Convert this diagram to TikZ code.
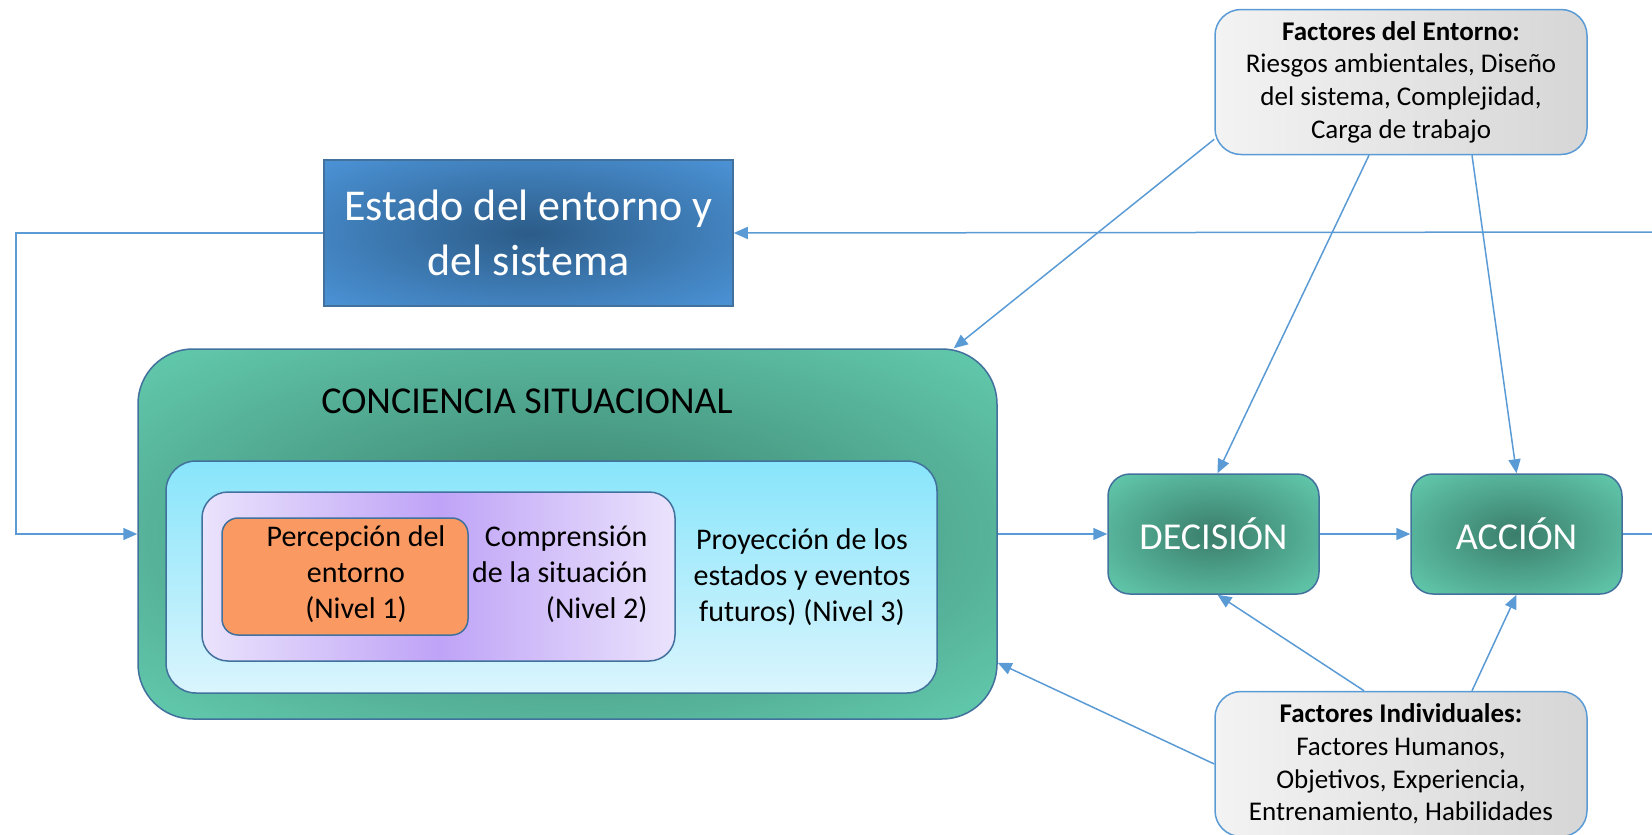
\documentclass[tikz,border=0pt]{standalone}
\usepackage{fontspec}
\setmainfont{Carlito}
\usetikzlibrary{positioning,arrows.meta}
\definecolor{linea}{HTML}{5B9BD5}
\definecolor{borde}{HTML}{41719C}
\definecolor{azulin}{HTML}{2C5C88}
\definecolor{azulout}{HTML}{4C94D8}
\definecolor{verdein}{HTML}{3A7D6A}
\definecolor{verdeout}{HTML}{60C6AA}
\definecolor{cianarr}{HTML}{88E5FB}
\definecolor{cianab}{HTML}{DAF5FD}
\definecolor{lilamed}{HTML}{BFA3F7}
\definecolor{lilabor}{HTML}{EAE3FC}
\definecolor{naranja}{HTML}{FA9A62}
\definecolor{grisiz}{HTML}{F3F3F3}
\definecolor{grisde}{HTML}{D6D6D6}
\pgfdeclareradialshading{sombraazul}{\pgfpoint{0bp}{0bp}}{color(0bp)=(azulin);color(36bp)=(azulout);color(50bp)=(azulout)}
\pgfdeclareradialshading{sombraverde}{\pgfpoint{0bp}{0bp}}{color(0bp)=(verdein);color(33bp)=(verdeout);color(50bp)=(verdeout)}
\begin{document}
\begin{tikzpicture}[x=1pt,y=-1pt,
  caja/.style={draw=borde,line width=1.5pt,inner sep=0pt},
  verde/.style={caja,shading=sombraverde},
  factor/.style={caja,draw=linea,rounded corners=26pt,left color=grisiz,right color=grisde,
    minimum width=372pt,minimum height=145pt,align=center,font=\fontsize{27}{32.6}\selectfont},
  flecha/.style={draw=linea,line width=1.5pt,-{Triangle[length=14pt,width=12pt]}},
  linea/.style={draw=linea,line width=1.5pt}]
  \useasboundingbox (0,0) rectangle (1652,835);
  \node[caja,shading=sombraazul,minimum width=409pt,minimum height=146pt,
    align=center,text=white,font=\fontsize{44}{55}\selectfont] (estado) at (528.5,233)
    {Estado del entorno y\\del sistema};
  \node[verde,rounded corners=55pt,minimum width=859pt,minimum height=370pt] (cs) at (567.5,534) {};
  \node[font=\fontsize{38}{44}\selectfont] (cstit) at (527,401) {CONCIENCIA SITUACIONAL};
  \node[caja,rounded corners=30pt,top color=cianarr,bottom color=cianab,
    minimum width=771pt,minimum height=232pt] (cian) at (551.5,577) {};
  \node[caja,rounded corners=26pt,left color=lilabor,right color=lilabor,middle color=lilamed,
    minimum width=473pt,minimum height=169pt] (lila) at (438.5,576.5) {};
  \node[caja,rounded corners=16pt,fill=naranja,minimum width=246pt,minimum height=117pt] (perc) at (345,576.5) {};
  \node[align=center,font=\fontsize{30}{36}\selectfont] (perctxt) at (356,574)
    {Percepción del\\entorno\\(Nivel 1)};
  \node[anchor=east,align=right,font=\fontsize{30}{36}\selectfont] (comptxt) at (651,574)
    {Comprensión\\de la situación\\(Nivel 2)};
  \node[align=center,font=\fontsize{30}{36}\selectfont] (proytxt) at (802,577)
    {Proyección de los\\estados y eventos\\futuros) (Nivel 3)};
  \node[verde,rounded corners=22pt,minimum width=211pt,minimum height=120pt,
    text=white,font=\fontsize{38}{44}\selectfont] (decision) at (1213.5,534) {DECISIÓN};
  \node[verde,rounded corners=22pt,minimum width=211pt,minimum height=120pt,
    text=white,font=\fontsize{38}{44}\selectfont] (accion) at (1516.5,534) {ACCIÓN};
  \node[factor] (entorno) at (1401,82)
    {\textbf{Factores del Entorno:}\\Riesgos ambientales, Diseño\\del sistema, Complejidad,\\Carga de trabajo};
  \node[factor] (indiv) at (1401,764)
    {\textbf{Factores Individuales:}\\Factores Humanos,\\Objetivos, Experiencia,\\Entrenamiento, Habilidades};
  \coordinate (izq) at (16,534);
  \coordinate (dera) at (1652,534);
  \coordinate (derb) at (1652,232);
  \draw[flecha] (estado.west) -| (izq) -- (cs.west);
  \draw[flecha] (cs.east) -- (decision.west);
  \draw[flecha] (decision) -- (accion);
  \draw[linea] (accion.east) -- (dera);
  \draw[flecha] (derb) -- (estado.east);
  \draw[flecha] ([yshift=16pt]entorno.south west) -- ([xshift=-44pt]cs.north east);
  \draw[flecha] ([xshift=-32pt]entorno.south) -- ([xshift=4pt]decision.north);
  \draw[flecha] ([xshift=71pt]entorno.south) -- (accion.north);
  \draw[flecha] ([xshift=-37pt]indiv.north) -- ([xshift=4pt]decision.south);
  \draw[flecha] ([xshift=71pt]indiv.north) -- (accion.south);
  \draw[flecha] (indiv.west) -- ([yshift=57pt]cs.south east);
\end{tikzpicture}
\end{document}
